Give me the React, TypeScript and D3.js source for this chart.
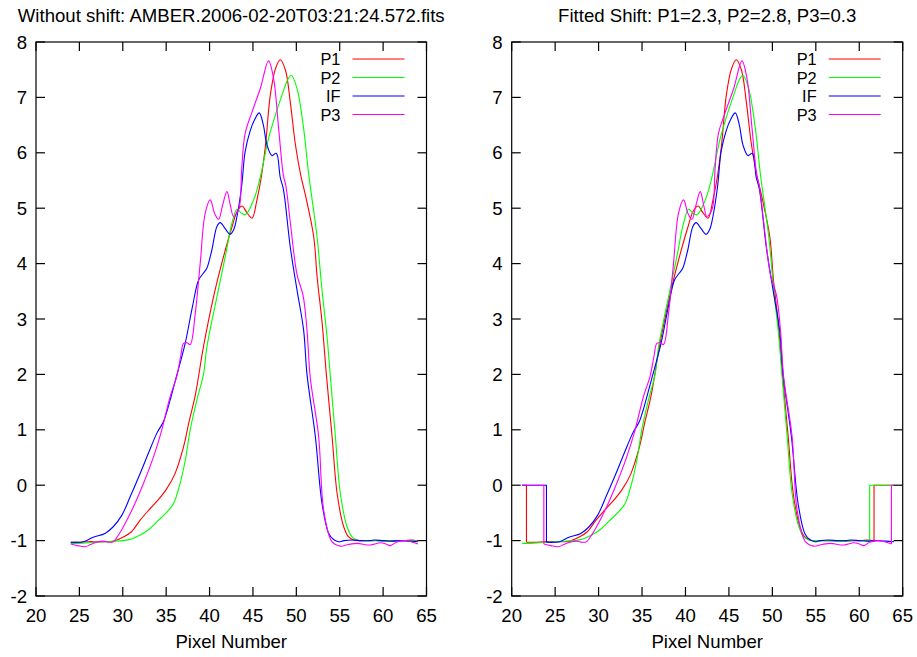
import React from 'react';
import * as d3 from 'd3';

type Pt = [number, number];

// Original (unshifted) profiles
const p1Data: Pt[] = [
  [24, -1.03], [25, -1.03], [26, -1.02], [27, -1.02], [28, -1.02], [29, -1.01], [30, -0.94],
  [31, -0.84], [32, -0.63], [33, -0.45], [34, -0.28], [35, -0.08], [36, 0.2], [37, 0.69],
  [37.6, 1.12], [38.35, 1.62], [39.3, 2.5], [40.46, 3.4], [41.6, 4.12], [42.6, 4.67],
  [43.2, 4.95], [43.75, 5.04], [44.3, 4.92], [44.9, 4.82], [45.46, 5.15], [45.95, 5.55],
  [46.45, 6.14], [47.0, 7.04], [47.6, 7.52], [48.15, 7.68], [48.75, 7.49], [49.3, 6.92],
  [49.9, 6.14], [50.5, 5.6], [51.04, 5.24], [52.0, 4.49], [52.4, 3.75], [52.96, 2.95],
  [53.46, 2.0], [54.12, 0.88], [54.7, -0.15], [55.46, -0.75], [56, -0.93], [56.6, -0.99],
  [57.5, -1.0], [58.5, -1.0], [59.5, -1.0], [60.5, -1.01], [61.5, -1.0], [62.5, -1.0],
  [63.3, -0.99], [64, -1.01],
];
const p2Data: Pt[] = [
  [24, -1.05], [25, -1.05], [26, -1.04], [27, -1.03], [28, -1.02], [29, -1.01], [30, -1.0],
  [31, -0.97], [32, -0.9], [33, -0.8], [34, -0.65], [35, -0.5], [35.85, -0.33], [36.6, 0.03],
  [37.2, 0.45], [37.77, 1.0], [38.54, 1.54], [39.3, 2.0], [39.7, 2.5], [40.85, 3.4],
  [41.8, 4.12], [42.58, 4.73], [43.16, 4.98], [43.6, 4.92], [44.12, 4.88], [45.08, 5.15],
  [45.77, 5.51], [46.8, 6.26], [47.58, 6.68], [48.35, 7.04], [49.0, 7.32], [49.42, 7.4],
  [50.08, 7.16], [50.84, 6.44], [51.42, 5.62], [52.38, 4.49], [52.96, 3.52], [53.54, 2.68],
  [53.9, 2.0], [54.5, 0.88], [55.07, -0.15], [55.85, -0.75], [56.4, -0.93], [57.0, -0.99],
  [58, -1.0], [59, -1.0], [60, -1.01], [61, -1.01], [62, -1.0], [63, -1.0], [64, -1.01],
];
const ifData: Pt[] = [
  [24, -1.03], [25, -1.03], [25.5, -1.02], [26.6, -0.94], [27.96, -0.87], [28.9, -0.75],
  [29.9, -0.54], [30.85, -0.21], [32.0, 0.21], [32.96, 0.58], [33.93, 0.94], [34.69, 1.15],
  [35.46, 1.54], [36.04, 1.88], [37.19, 2.56], [38.0, 3.2], [38.73, 3.7], [39.3, 3.83],
  [39.7, 3.92], [40.27, 4.25], [40.85, 4.67], [41.23, 4.74], [41.8, 4.63], [42.38, 4.53],
  [42.8, 4.62], [43.16, 4.85], [43.7, 5.4], [44.1, 6.02], [44.69, 6.4], [45.2, 6.6],
  [45.73, 6.72], [46.2, 6.5], [46.62, 6.14], [47.19, 5.95], [47.69, 5.99], [48.15, 5.55],
  [48.5, 5.35], [49.3, 4.3], [50.08, 3.52], [50.84, 2.8], [51.23, 2.0], [52.19, 0.88],
  [52.96, -0.33], [53.73, -0.87], [54.3, -0.98], [54.88, -1.02], [55.5, -1.0], [56.5, -0.99],
  [57.5, -1.0], [58.5, -1.0], [59, -0.99], [60, -1.0], [61, -1.01], [62, -1.0], [63, -1.01],
  [64, -1.02],
];
const p3Data: Pt[] = [
  [24, -1.06], [24.8, -1.09], [25.65, -1.11], [26.3, -1.07], [27.0, -1.03], [27.8, -1.01],
  [28.4, -1.03], [28.9, -1.02], [29.5, -0.9], [30.07, -0.75], [31.23, -0.39], [32.38, 0.03],
  [33.54, 0.51], [34.5, 1.0], [35.46, 1.6], [36.2, 1.95], [36.7, 2.35], [37.0, 2.56],
  [37.4, 2.57], [37.77, 2.54], [38.35, 3.1], [38.92, 4.0], [39.5, 4.91], [40.08, 5.15],
  [40.6, 4.9], [41.04, 4.8], [41.5, 5.05], [42.0, 5.3], [42.4, 5.05], [42.77, 4.85],
  [43.4, 5.0], [43.7, 5.7], [44.1, 6.35], [44.9, 6.74], [45.85, 7.16], [46.8, 7.66],
  [47.38, 7.34], [47.96, 6.44], [48.5, 5.6], [48.8, 5.4], [49.3, 4.75], [50.08, 3.8],
  [50.77, 3.43], [51.23, 2.8], [51.6, 1.95], [52.57, 0.88], [53.15, -0.45], [54.1, -1.02],
  [55.07, -1.1], [56, -1.07], [57, -1.05], [58.5, -1.08], [59.7, -1.04], [60.3, -1.06],
  [60.85, -1.09], [61.5, -1.03], [62.38, -1.0], [63.2, -1.02], [64, -1.06],
];

const seriesNames = ['P1', 'P2', 'IF', 'P3'];
const seriesData = [p1Data, p2Data, ifData, p3Data];
const seriesColors = ['#ff0000', '#00ff00', '#0000ff', '#ff00ff'];
const fittedShifts = [2.3, 2.8, 0, 0.3];

const xTicks = [20, 25, 30, 35, 40, 45, 50, 55, 60, 65];
const yTicks = [-2, -1, 0, 1, 2, 3, 4, 5, 6, 7, 8];
const leftTitle = 'Without shift: AMBER.2006-02-20T03:21:24.572.fits';
const rightTitle = 'Fitted Shift: P1=2.3, P2=2.8, P3=0.3';
const xLabel = 'Pixel Number';

const W = 917;
const H = 657;
const FONT = '"Liberation Sans", Arial, sans-serif';
const FS = 18.6;
const LEGEND_FS = 16.4;
const PLOT_TOP = 42;
const PLOT_BOTTOM = 596;

interface PanelProps {
  left: number;
  right: number;
  title: string;
  shifted: boolean;
}

function Panel({ left, right, title, shifted }: PanelProps) {
  const x = d3.scaleLinear().domain([20, 65]).range([left, right]);
  const y = d3.scaleLinear().domain([-2, 8]).range([PLOT_BOTTOM, PLOT_TOP]);
  const curved = d3
    .line<Pt>()
    .x((d) => x(d[0]))
    .y((d) => y(d[1]))
    .curve(d3.curveCatmullRom.alpha(0.5));
  const straight = d3
    .line<Pt>()
    .x((d) => x(d[0]))
    .y((d) => y(d[1]));

  const allShifts = shifted ? fittedShifts : fittedShifts.map(() => 0);
  const gridStart = d3.min(seriesData.map((s, i) => s[0][0] - allShifts[i])) as number;
  const gridEnd = d3.max(seriesData.map((s, i) => s[s.length - 1][0] - allShifts[i])) as number;

  const tick = 9;
  const legendLineEnd = right - 22;
  const legendLineStart = right - 74;
  const legendTextEnd = right - 86;
  const legendRows = [59, 77.5, 96, 114.5];

  return (
    <g>
      <text x={(left + right) / 2} y={21.5} textAnchor="middle" fontFamily={FONT} fontSize={FS} fill="#000">
        {title}
      </text>
      {seriesData.map((s, i) => {
        const sh = allShifts[i];
        const pts: Pt[] = s.map((d) => [d[0] - sh, d[1]] as Pt);
        const first = pts[0];
        const last = pts[pts.length - 1];
        const pads: Pt[][] = [];
        if (shifted && first[0] > gridStart + 0.01) {
          pads.push([[gridStart, 0], [first[0], 0], [first[0], first[1]]]);
        }
        if (shifted && last[0] < gridEnd - 0.01) {
          pads.push([[last[0], last[1]], [last[0], 0], [gridEnd, 0]]);
        }
        return (
          <g key={seriesNames[i]} fill="none" stroke={seriesColors[i]} strokeWidth={1.1}>
            {pads.map((p, k) => (
              <path key={k} d={straight(p) || ''} />
            ))}
            <path d={curved(pts) || ''} />
          </g>
        );
      })}
      <g stroke="#000" strokeWidth={1.2} fill="none">
        <rect x={left} y={PLOT_TOP} width={right - left} height={PLOT_BOTTOM - PLOT_TOP} />
        {xTicks.map((t) => (
          <g key={'x' + t}>
            <line x1={x(t)} x2={x(t)} y1={PLOT_BOTTOM} y2={PLOT_BOTTOM - tick} />
            <line x1={x(t)} x2={x(t)} y1={PLOT_TOP} y2={PLOT_TOP + tick} />
          </g>
        ))}
        {yTicks.map((t) => (
          <g key={'y' + t}>
            <line x1={left} x2={left + tick} y1={y(t)} y2={y(t)} />
            <line x1={right} x2={right - tick} y1={y(t)} y2={y(t)} />
          </g>
        ))}
      </g>
      <g fontFamily={FONT} fontSize={FS} fill="#000">
        {xTicks.map((t) => (
          <text key={'xl' + t} x={x(t)} y={622} textAnchor="middle">
            {t}
          </text>
        ))}
        {yTicks.map((t) => (
          <text key={'yl' + t} x={left - 9} y={y(t) + 6.5} textAnchor="end">
            {t}
          </text>
        ))}
        <text x={(left + right) / 2} y={648} textAnchor="middle">
          {xLabel}
        </text>
      </g>
      {seriesNames.map((n, i) => (
        <g key={'lg' + n}>
          <text
            x={legendTextEnd}
            y={legendRows[i] + 6}
            textAnchor="end"
            fontFamily={FONT}
            fontSize={LEGEND_FS}
            fill="#000"
          >
            {n}
          </text>
          <line
            x1={legendLineStart}
            x2={legendLineEnd}
            y1={legendRows[i]}
            y2={legendRows[i]}
            stroke={seriesColors[i]}
            strokeWidth={1.1}
          />
        </g>
      ))}
    </g>
  );
}

export default function App() {
  return (
    <svg width={W} height={H} style={{ display: 'block', position: 'absolute', left: 0, top: 0, background: '#fff' }}>
      <rect x={0} y={0} width={W} height={H} fill="#fff" />
      <Panel left={36} right={426.5} title={leftTitle} shifted={false} />
      <Panel left={511.7} right={902.7} title={rightTitle} shifted={true} />
    </svg>
  );
}
